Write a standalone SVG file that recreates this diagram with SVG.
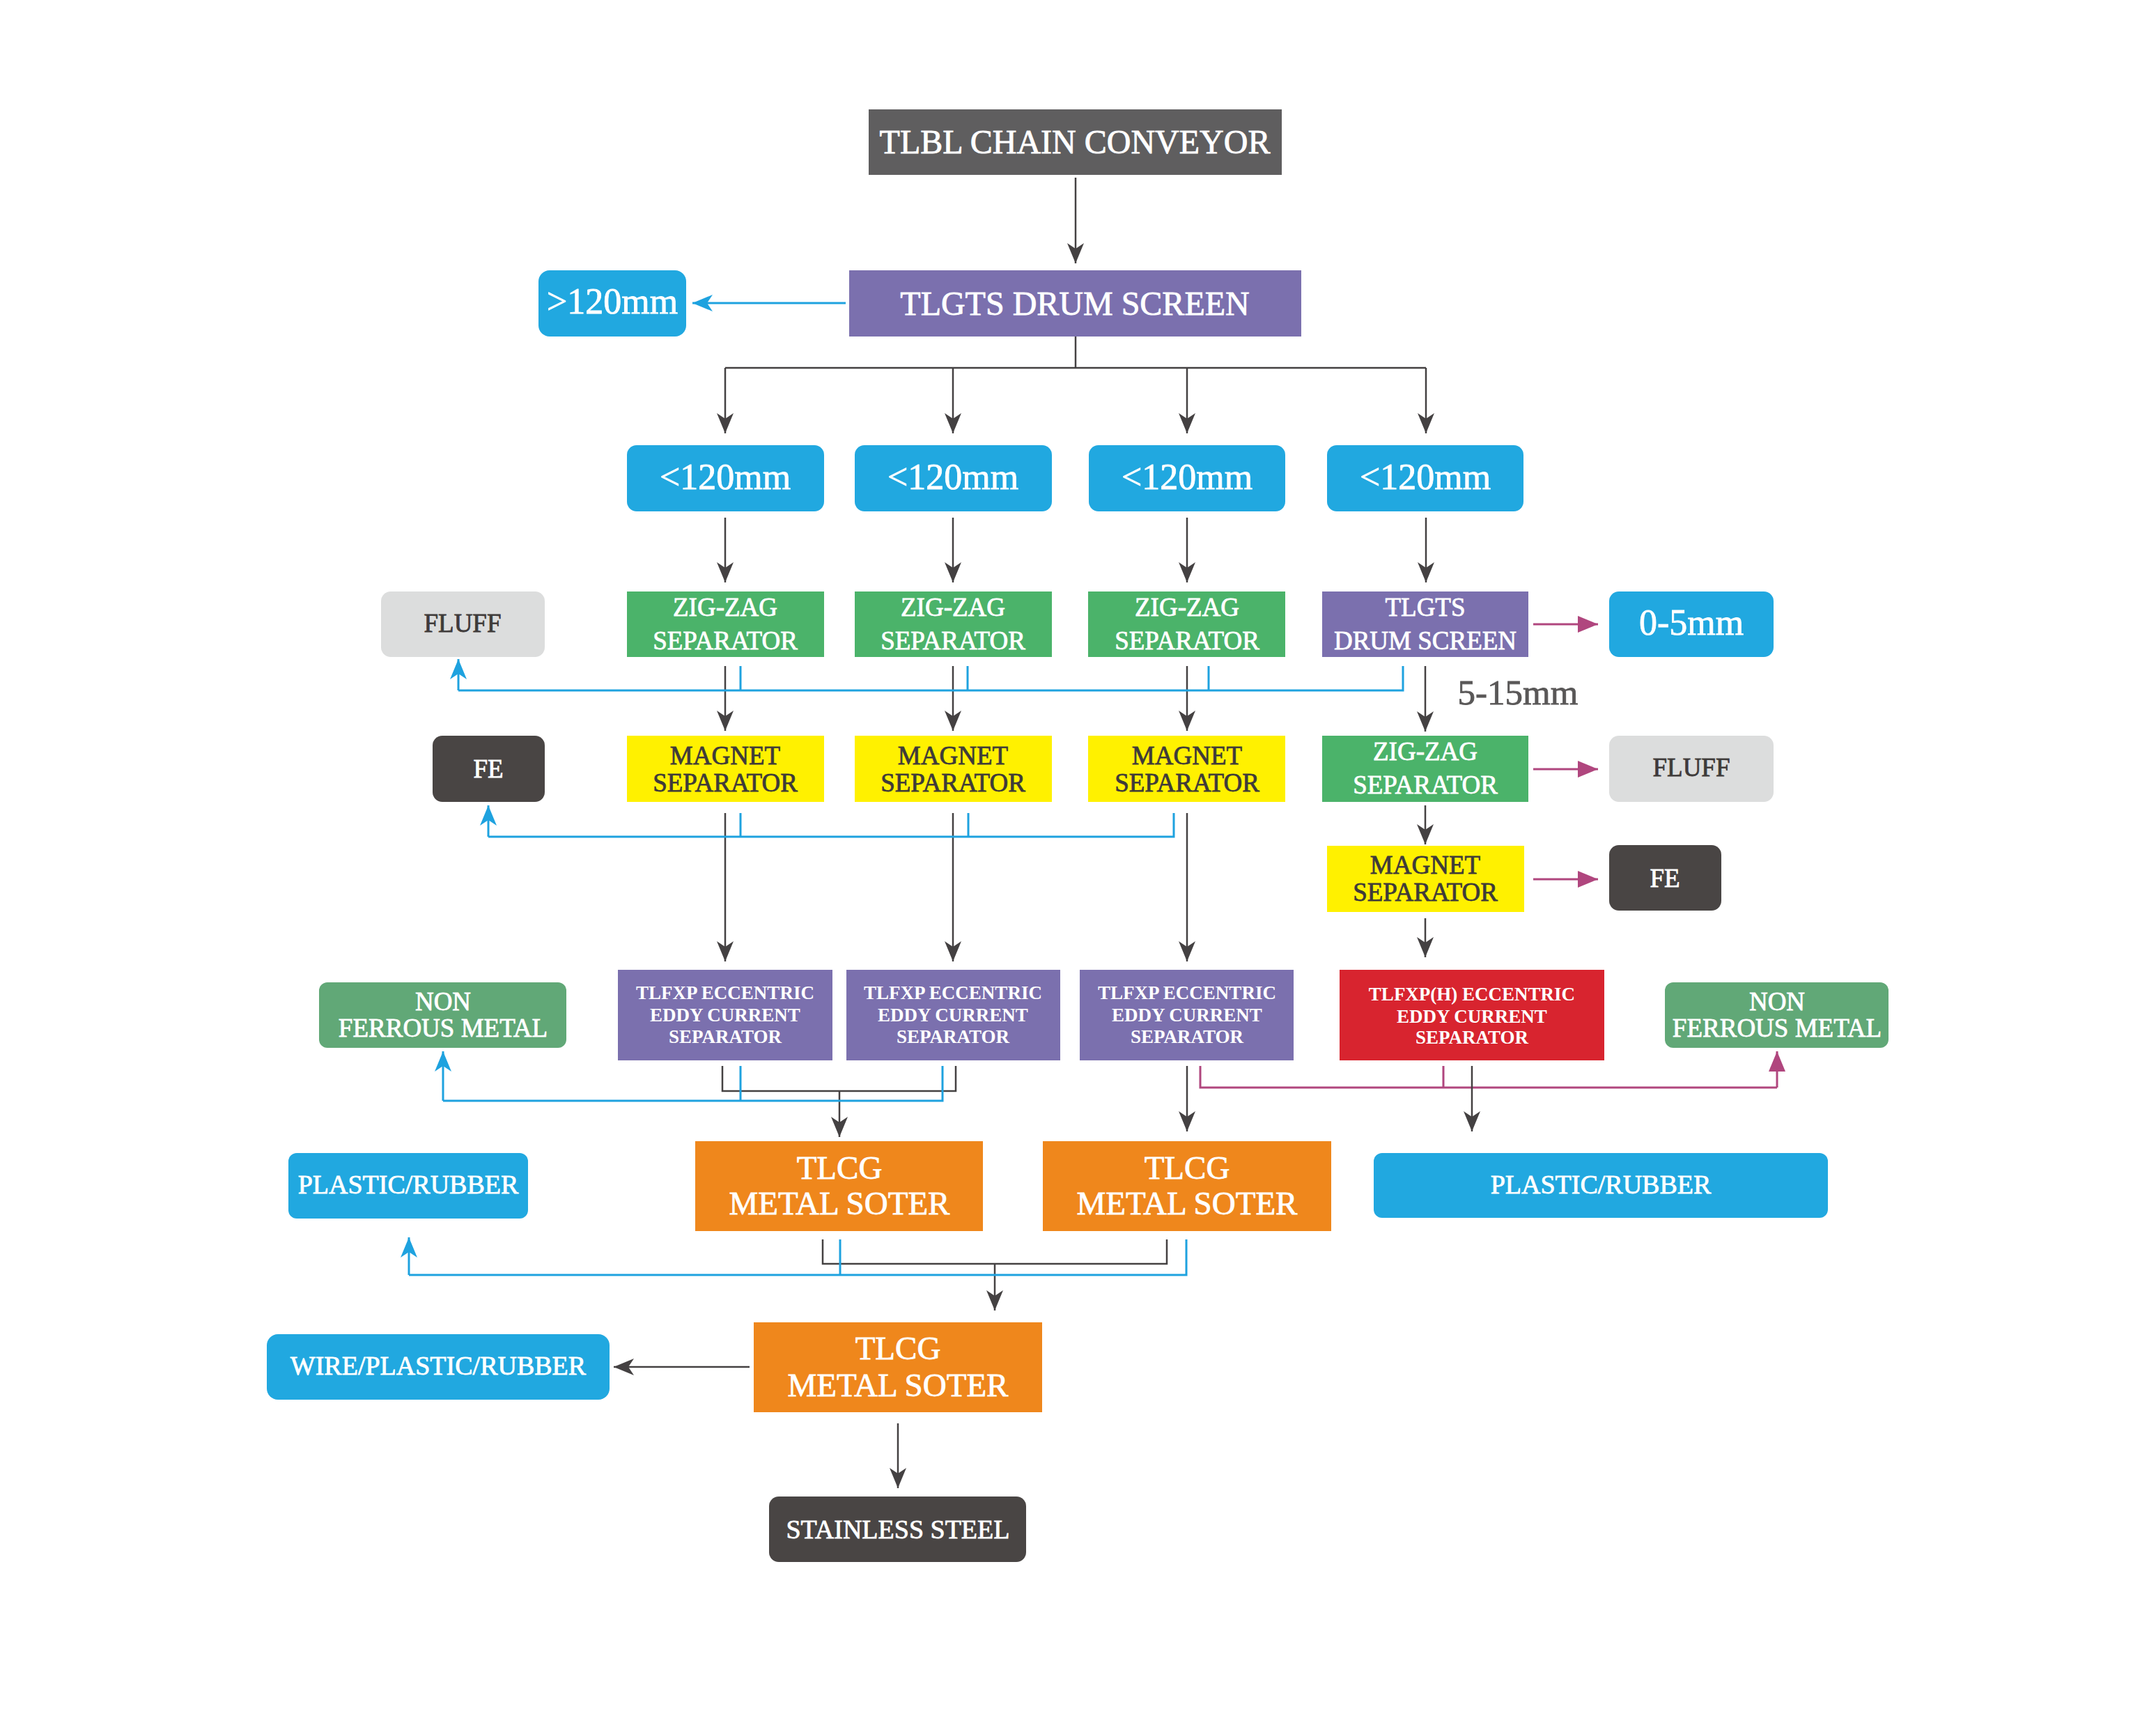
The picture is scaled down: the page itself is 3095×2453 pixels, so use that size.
<svg xmlns="http://www.w3.org/2000/svg" width="3095" height="2453" viewBox="0 0 3095 2453">
<style>
text{font-family:"Liberation Serif","Times New Roman",serif;text-anchor:middle;stroke-width:0.8px;paint-order:stroke}
.w{fill:#ffffff;stroke:#ffffff}
.d{fill:#3e3a39;stroke:#3e3a39}
.t48{font-size:48px}
.t52{font-size:52px}
.t47{font-size:47px}
.t37{font-size:37px}
.t38{font-size:38px}
.t27{font-size:27px;font-weight:bold;stroke-width:0}
.lbl{font-size:51px;fill:#595757;stroke:#595757}
.cd{fill:none;stroke:#444142;stroke-width:2.5}
.cb{fill:none;stroke:#1ea2df;stroke-width:3}
.cp{fill:none;stroke:#b0467e;stroke-width:3}
</style>
<defs>
<marker id="ad" markerUnits="userSpaceOnUse" viewBox="-30 -13 32 26" markerWidth="32" markerHeight="26" refX="0" refY="0" orient="auto"><path d="M0,0 L-29,-12 L-21,0 L-29,12 Z" fill="#444142"/></marker>
<marker id="ab" markerUnits="userSpaceOnUse" viewBox="-30 -13 32 26" markerWidth="32" markerHeight="26" refX="0" refY="0" orient="auto"><path d="M0,0 L-29,-12 L-21,0 L-29,12 Z" fill="#1ea2df"/></marker>
<marker id="ap" markerUnits="userSpaceOnUse" viewBox="-30 -13 32 26" markerWidth="32" markerHeight="26" refX="0" refY="0" orient="auto"><path d="M0,0 L-29,-12 L-29,12 Z" fill="#b0467e"/></marker>
</defs>
<rect width="3095" height="2453" fill="#ffffff"/>

<g id="connectors">
<path class="cd" d="M1544,255 V378" marker-end="url(#ad)"/>
<path class="cb" d="M1214,435 H994" marker-end="url(#ab)"/>
<path class="cd" d="M1544,483 V528 M1041,528 H2047"/>
<path class="cd" d="M1041,528 V622" marker-end="url(#ad)"/>
<path class="cd" d="M1368,528 V622" marker-end="url(#ad)"/>
<path class="cd" d="M1704,528 V622" marker-end="url(#ad)"/>
<path class="cd" d="M2047,528 V622" marker-end="url(#ad)"/>
<path class="cd" d="M1041,743 V836" marker-end="url(#ad)"/>
<path class="cd" d="M1368,743 V836" marker-end="url(#ad)"/>
<path class="cd" d="M1704,743 V836" marker-end="url(#ad)"/>
<path class="cd" d="M2047,743 V836" marker-end="url(#ad)"/>
<path class="cd" d="M1041,956 V1049" marker-end="url(#ad)"/>
<path class="cd" d="M1368,956 V1049" marker-end="url(#ad)"/>
<path class="cd" d="M1704,956 V1049" marker-end="url(#ad)"/>
<path class="cb" d="M1063,956 V991 M1389,956 V991 M1735,956 V991 M2014,956 V991 H658"/>
<path class="cb" d="M658,991 V946" marker-end="url(#ab)"/>
<path class="cd" d="M2046,956 V1050" marker-end="url(#ad)"/>
<path class="cp" d="M2201,896 H2294" marker-end="url(#ap)"/>
<path class="cp" d="M2201,1104 H2294" marker-end="url(#ap)"/>
<path class="cd" d="M2046,1156 V1212" marker-end="url(#ad)"/>
<path class="cp" d="M2201,1262 H2294" marker-end="url(#ap)"/>
<path class="cd" d="M2046,1318 V1374" marker-end="url(#ad)"/>
<path class="cd" d="M1041,1167 V1380" marker-end="url(#ad)"/>
<path class="cd" d="M1368,1167 V1380" marker-end="url(#ad)"/>
<path class="cd" d="M1704,1167 V1380" marker-end="url(#ad)"/>
<path class="cb" d="M1063,1167 V1201 M1390,1167 V1201 M1685,1167 V1201 H701"/>
<path class="cb" d="M701,1201 V1156" marker-end="url(#ab)"/>
<path class="cd" d="M1037,1530 V1566 H1372 V1530"/>
<path class="cd" d="M1205,1566 V1632" marker-end="url(#ad)"/>
<path class="cb" d="M1063,1530 V1580 M1353,1530 V1580 H636"/>
<path class="cb" d="M636,1580 V1509" marker-end="url(#ab)"/>
<path class="cd" d="M1704,1530 V1624" marker-end="url(#ad)"/>
<path class="cp" d="M1723,1530 V1561 H2551 M2072,1530 V1561"/>
<path class="cp" d="M2551,1561 V1509" marker-end="url(#ap)"/>
<path class="cd" d="M2113,1530 V1624" marker-end="url(#ad)"/>
<path class="cd" d="M1181,1779 V1814 H1675 V1779"/>
<path class="cd" d="M1428,1814 V1881" marker-end="url(#ad)"/>
<path class="cb" d="M1206,1779 V1830 M1703,1779 V1830 H587"/>
<path class="cb" d="M587,1830 V1776" marker-end="url(#ab)"/>
<path class="cd" d="M1076,1962 H881" marker-end="url(#ad)"/>
<path class="cd" d="M1289,2043 V2136" marker-end="url(#ad)"/>
</g>

<g id="chain-conveyor"><rect x="1247" y="157" width="593" height="94" fill="#5f5e5f"/><text class="w t48" x="1543" y="220">TLBL CHAIN CONVEYOR</text></g>
<g id="drum-screen"><rect x="1219" y="388" width="649" height="95" fill="#7b70ae"/><text class="w t48" x="1543" y="452">TLGTS DRUM SCREEN</text></g>
<g id="over-120"><rect x="773" y="388" width="212" height="95" rx="16" fill="#21a8e0"/><text class="w t52" x="879" y="450">&gt;120mm</text></g>

<g id="under-120-1"><rect x="900" y="639" width="283" height="95" rx="14" fill="#21a8e0"/><text class="w t52" x="1041" y="702">&lt;120mm</text></g>
<g id="under-120-2"><rect x="1227" y="639" width="283" height="95" rx="14" fill="#21a8e0"/><text class="w t52" x="1368" y="702">&lt;120mm</text></g>
<g id="under-120-3"><rect x="1563" y="639" width="282" height="95" rx="14" fill="#21a8e0"/><text class="w t52" x="1704" y="702">&lt;120mm</text></g>
<g id="under-120-4"><rect x="1905" y="639" width="282" height="95" rx="14" fill="#21a8e0"/><text class="w t52" x="2046" y="702">&lt;120mm</text></g>

<g id="fluff-1"><rect x="547" y="849" width="235" height="94" rx="14" fill="#dcdddd"/><text class="d t37" x="664" y="907">FLUFF</text></g>
<g id="zigzag-1"><rect x="900" y="849" width="283" height="94" fill="#4bb36a"/><text class="w t37" x="1041" y="884">ZIG-ZAG</text><text class="w t37" x="1041" y="932">SEPARATOR</text></g>
<g id="zigzag-2"><rect x="1227" y="849" width="283" height="94" fill="#4bb36a"/><text class="w t37" x="1368" y="884">ZIG-ZAG</text><text class="w t37" x="1368" y="932">SEPARATOR</text></g>
<g id="zigzag-3"><rect x="1562" y="849" width="283" height="94" fill="#4bb36a"/><text class="w t37" x="1704" y="884">ZIG-ZAG</text><text class="w t37" x="1704" y="932">SEPARATOR</text></g>
<g id="drum-screen-small"><rect x="1898" y="849" width="296" height="94" fill="#7b70ae"/><text class="w t37" x="2046" y="884">TLGTS</text><text class="w t37" x="2046" y="932">DRUM SCREEN</text></g>
<g id="size-0-5"><rect x="2310" y="849" width="236" height="94" rx="14" fill="#21a8e0"/><text class="w t52" x="2428" y="911">0-5mm</text></g>
<text class="lbl" x="2179" y="1011">5-15mm</text>

<g id="fe-1"><rect x="621" y="1056" width="161" height="95" rx="14" fill="#494544"/><text class="w t37" x="701" y="1116">FE</text></g>
<g id="magnet-1"><rect x="900" y="1056" width="283" height="95" fill="#fff100"/><text class="d t37" x="1041" y="1097">MAGNET</text><text class="d t37" x="1041" y="1136">SEPARATOR</text></g>
<g id="magnet-2"><rect x="1227" y="1056" width="283" height="95" fill="#fff100"/><text class="d t37" x="1368" y="1097">MAGNET</text><text class="d t37" x="1368" y="1136">SEPARATOR</text></g>
<g id="magnet-3"><rect x="1562" y="1056" width="283" height="95" fill="#fff100"/><text class="d t37" x="1704" y="1097">MAGNET</text><text class="d t37" x="1704" y="1136">SEPARATOR</text></g>
<g id="zigzag-4"><rect x="1898" y="1056" width="296" height="95" fill="#4bb36a"/><text class="w t37" x="2046" y="1091">ZIG-ZAG</text><text class="w t37" x="2046" y="1139">SEPARATOR</text></g>
<g id="fluff-2"><rect x="2310" y="1056" width="236" height="95" rx="14" fill="#dcdddd"/><text class="d t37" x="2428" y="1114">FLUFF</text></g>
<g id="magnet-4"><rect x="1905" y="1214" width="283" height="95" fill="#fff100"/><text class="d t37" x="2046" y="1254">MAGNET</text><text class="d t37" x="2046" y="1293">SEPARATOR</text></g>
<g id="fe-2"><rect x="2310" y="1213" width="161" height="94" rx="14" fill="#494544"/><text class="w t37" x="2390" y="1273">FE</text></g>

<g id="nonferrous-1"><rect x="458" y="1410" width="355" height="94" rx="12" fill="#61a877"/><text class="w t37" x="636" y="1450">NON</text><text class="w t37" x="636" y="1488">FERROUS METAL</text></g>
<g id="eddy-1"><rect x="887" y="1392" width="308" height="130" fill="#7b70ae"/><text class="w t27" x="1041" y="1434">TLFXP ECCENTRIC</text><text class="w t27" x="1041" y="1466">EDDY CURRENT</text><text class="w t27" x="1041" y="1497">SEPARATOR</text></g>
<g id="eddy-2"><rect x="1215" y="1392" width="307" height="130" fill="#7b70ae"/><text class="w t27" x="1368" y="1434">TLFXP ECCENTRIC</text><text class="w t27" x="1368" y="1466">EDDY CURRENT</text><text class="w t27" x="1368" y="1497">SEPARATOR</text></g>
<g id="eddy-3"><rect x="1550" y="1392" width="307" height="130" fill="#7b70ae"/><text class="w t27" x="1704" y="1434">TLFXP ECCENTRIC</text><text class="w t27" x="1704" y="1466">EDDY CURRENT</text><text class="w t27" x="1704" y="1497">SEPARATOR</text></g>
<g id="eddy-h"><rect x="1923" y="1392" width="380" height="130" fill="#d8242f"/><text class="w t27" x="2113" y="1436">TLFXP(H) ECCENTRIC</text><text class="w t27" x="2113" y="1468">EDDY CURRENT</text><text class="w t27" x="2113" y="1498">SEPARATOR</text></g>
<g id="nonferrous-2"><rect x="2390" y="1410" width="321" height="94" rx="12" fill="#61a877"/><text class="w t37" x="2551" y="1450">NON</text><text class="w t37" x="2551" y="1488">FERROUS METAL</text></g>

<g id="plastic-1"><rect x="414" y="1655" width="344" height="94" rx="12" fill="#21a8e0"/><text class="w t38" x="586" y="1713">PLASTIC/RUBBER</text></g>
<g id="metal-soter-1"><rect x="998" y="1638" width="413" height="129" fill="#ef871c"/><text class="w t47" x="1205" y="1692">TLCG</text><text class="w t47" x="1205" y="1743">METAL SOTER</text></g>
<g id="metal-soter-2"><rect x="1497" y="1638" width="414" height="129" fill="#ef871c"/><text class="w t47" x="1704" y="1692">TLCG</text><text class="w t47" x="1704" y="1743">METAL SOTER</text></g>
<g id="plastic-2"><rect x="1972" y="1655" width="652" height="93" rx="12" fill="#21a8e0"/><text class="w t38" x="2298" y="1713">PLASTIC/RUBBER</text></g>

<g id="wire-plastic"><rect x="383" y="1915" width="492" height="94" rx="16" fill="#21a8e0"/><text class="w t38" x="629" y="1973">WIRE/PLASTIC/RUBBER</text></g>
<g id="metal-soter-3"><rect x="1082" y="1898" width="414" height="129" fill="#ef871c"/><text class="w t47" x="1289" y="1951">TLCG</text><text class="w t47" x="1289" y="2004">METAL SOTER</text></g>
<g id="stainless"><rect x="1104" y="2148" width="369" height="94" rx="14" fill="#494544"/><text class="w t38" x="1289" y="2208">STAINLESS STEEL</text></g>
</svg>
